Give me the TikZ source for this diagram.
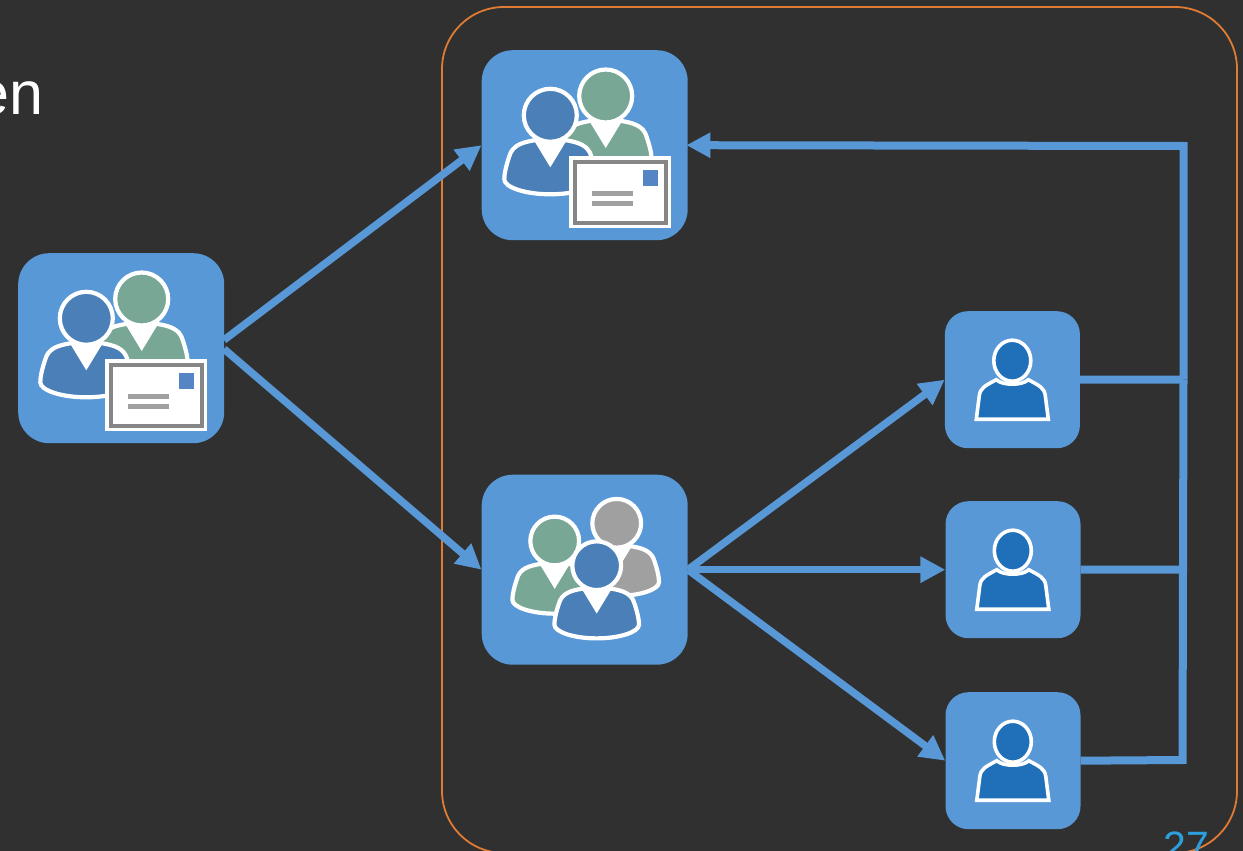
\documentclass[tikz,border=0pt]{standalone}
\usepackage{fontspec}
\setmainfont{Liberation Sans}
\usetikzlibrary{arrows.meta}
\definecolor{bgc}{HTML}{303030}
\definecolor{boxc}{HTML}{5898D6}
\definecolor{orangec}{HTML}{E07B33}
\definecolor{bluep}{HTML}{4A7FB8}
\definecolor{greenp}{HTML}{79A796}
\definecolor{greyp}{HTML}{A0A0A0}
\definecolor{darkp}{HTML}{1F70B8}
\definecolor{numc}{HTML}{2E9FDD}
\definecolor{stampc}{HTML}{5585C5}
\tikzset{
  x=1pt,y=-1pt,
  bigbox/.style={fill=boxc,draw=none,rounded corners=31pt,minimum width=206pt,minimum height=190pt,inner sep=0pt,anchor=north west},
  userbox/.style={fill=boxc,draw=none,rounded corners=23pt,minimum width=135pt,minimum height=137pt,inner sep=0pt,anchor=north west},
  conn/.style={draw=boxc,line width=7.5pt},
  arrowconn/.style={conn,-{Triangle[length=25pt,width=25pt]},shorten >=0pt},
  feed/.style={draw=boxc,line width=8pt},
  pics/person/.style={code={
    \path[fill=#1,draw=white,line width=4.2pt,line join=round]
      (-16,25) .. controls (-28,27) and (-38,30) .. (-41,41)
      .. controls (-44,50) and (-46,58) .. (-46,64)
      .. controls (-46,72) and (-25,79) .. (0,79)
      .. controls (25,79) and (46,72) .. (46,64)
      .. controls (46,58) and (44,50) .. (41,41)
      .. controls (38,30) and (28,27) .. (16,25) -- cycle;
    \path[fill=white] (-17,24) -- (0,52) -- (17,24) -- cycle;
    \path[fill=#1,draw=white,line width=4.2pt] (0,0) circle[radius=26.5];
  }},
  pics/user/.style={code={
    \path[fill=darkp,draw=white,line width=3.6pt,line join=miter]
      (-36,58.5) -- (-33,35) .. controls (-32,27) and (-27,25) .. (-16,19)
      .. controls (-10,25) and (10,25) .. (16,19)
      .. controls (27,25) and (32,27) .. (33,35) -- (36,58.5) -- cycle;
    \path[fill=darkp,draw=white,line width=3.6pt] (0,0) ellipse[x radius=18.5,y radius=20.5];
  }},
  pics/mail/.style={code={
    \path[fill=white] (0,0) rectangle (102,72);
    \path[fill=white,draw=gray!95,line width=4pt] (5.5,5.5) rectangle (96.5,66.5);
    \path[fill=stampc] (74,14) rectangle (89,30);
    \path[fill=greyp] (23,35) rectangle (64,40);
    \path[fill=greyp] (23,45) rectangle (64,50);
  }}
}
\begin{document}
\begin{tikzpicture}
\useasboundingbox (0,0) rectangle (1243,851);
\path[fill=bgc] (0,0) rectangle (1243,851);
\begin{scope}
\clip (0,0) rectangle (1243,851);
\path[draw=orangec,line width=1.8pt,rounded corners=62pt] (442,7) rectangle (1237,853);
\node[text=white,font=\fontsize{61pt}{61pt}\selectfont,anchor=base east,inner sep=0pt] (en) at (44,114.5) {en};
\node[text=numc,font=\fontsize{41pt}{41pt}\selectfont,anchor=base west,inner sep=0pt] (pg) at (1163,860) {27};
\end{scope}

\node[bigbox] (dist) at (481.5,50) {};
\node[bigbox] (src) at (18,253) {};
\node[bigbox] (grp) at (481.5,474.5) {};
\node[userbox] (u1) at (944.7,311) {};
\node[userbox] (u2) at (945.3,501) {};
\node[userbox] (u3) at (945.3,692) {};
\coordinate (cA) at (1183.5,379.5);
\coordinate (cB) at (1182.5,569.5);
\coordinate (cC) at (1182.5,760);
\coordinate (cT) at (1183.5,146);
\coordinate (srcA) at (224,340);
\coordinate (srcB) at (224,349);

\draw[feed] (u1.east) -- (cA);
\draw[feed] (u2.east) -- (cB);
\draw[feed,line join=miter] (u3.east) -- (cC) -- (cA);
\draw[feed,line join=miter,shorten >=-1.5pt,-{Triangle[length=24pt,width=24pt]}] (cA) -- (cT) -- (dist.east);

\draw[arrowconn] (srcA) -- (dist.west);
\draw[arrowconn] (srcB) -- (grp.west);
\draw[arrowconn] (grp.east) -- (u1.west);
\draw[arrowconn] (grp.east) -- (u2.west);
\draw[arrowconn] (grp.east) -- (u3.west);

\path (605.7,96) pic {person=greenp};
\path (550.3,115.3) pic {person=bluep};
\path (569,156) pic {mail};
\path (141.7,299) pic {person=greenp};
\path (86.3,318.3) pic {person=bluep};
\path (105,359) pic {mail};
\path (616.7,523.3) pic[scale=.92] {person=greyp};
\path (554.7,541) pic[scale=.92] {person=greenp};
\path (596.7,565.7) pic[scale=.92] {person=bluep};
\path (1012.3,360.7) pic {user};
\path (1012.8,550.7) pic {user};
\path (1012.8,741.7) pic {user};
\end{tikzpicture}
\end{document}
